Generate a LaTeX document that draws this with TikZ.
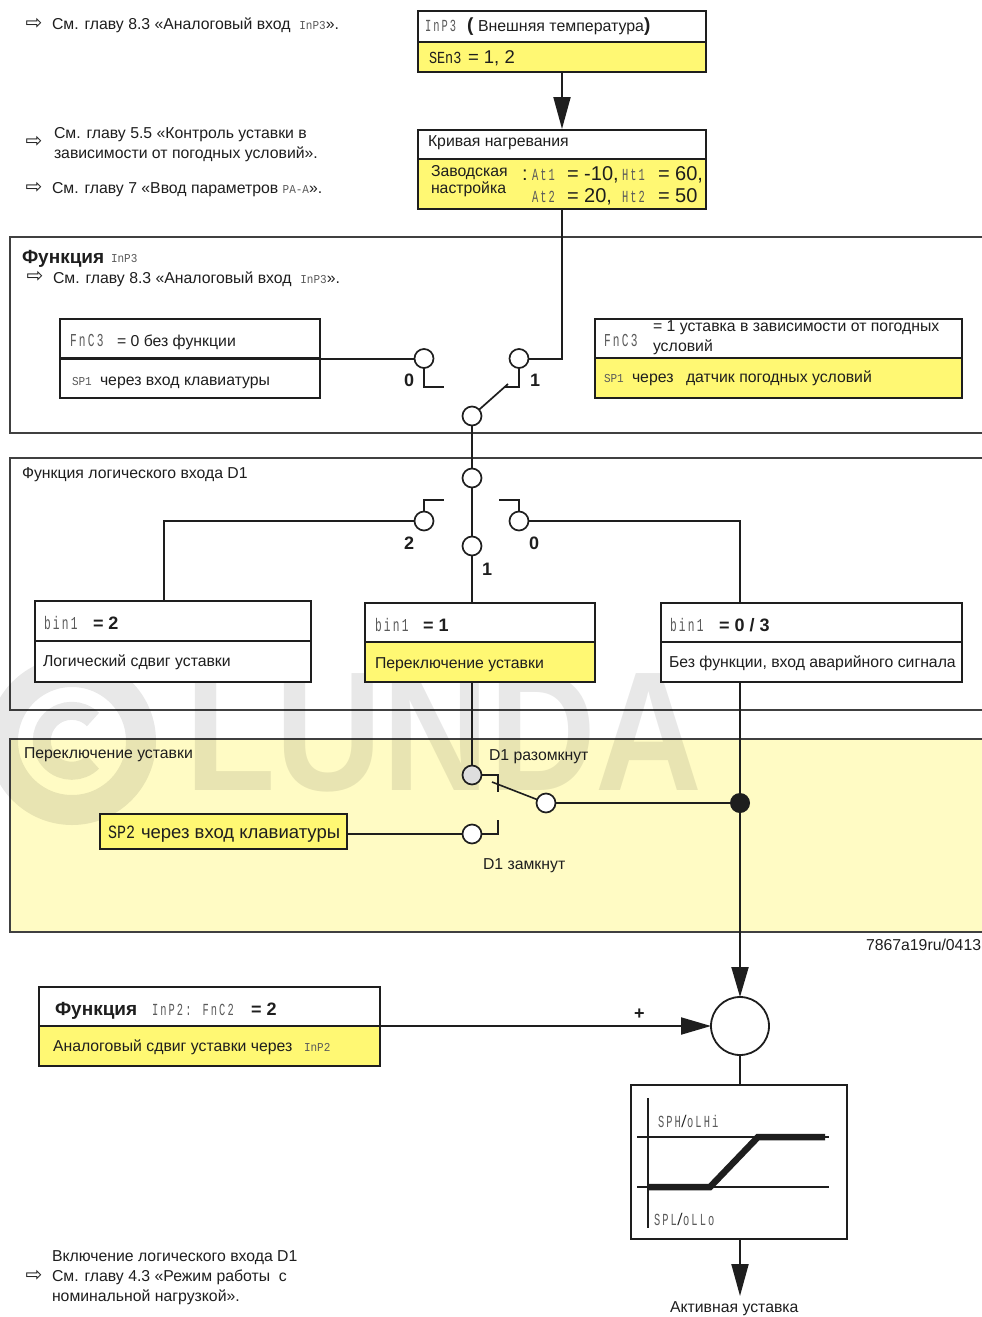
\documentclass[tikz,border=0pt]{standalone}
\usepackage{fontspec}
\usepackage{graphicx}
\setmainfont{Liberation Sans}
\newfontfamily\segf[LetterSpace=20]{Liberation Mono}
\newfontfamily\segtf{Liberation Mono}
\usetikzlibrary{arrows.meta}
\definecolor{hiy}{HTML}{FFF873}
\definecolor{pale}{HTML}{FFFBC4}
\definecolor{ink}{HTML}{1E1E1E}
\definecolor{seggray}{HTML}{5A5A5A}
\newcommand\seg[2][14]{{\fontsize{#1}{#1}\selectfont\segf\textcolor{seggray}{\scalebox{.8}[1.3]{#2}}}}
\newcommand\segt[2][11]{{\fontsize{#1}{#1}\selectfont\segtf\textcolor{seggray}{\scalebox{1}[1.1]{#2}}}}
\newcommand\segd[2][14]{{\fontsize{#1}{#1}\selectfont\segtf\textcolor{ink}{\scalebox{1}[1.25]{#2}}}}
\tikzset{
  x=1pt,y=-1pt,
  lbl/.style={anchor=base west,inner sep=0pt,outer sep=0pt,text=ink,font=\fontsize{15.8}{20}\selectfont},
  bigb/.style={lbl,font=\fontsize{19}{20}\selectfont\bfseries},
  numb/.style={lbl,font=\fontsize{18}{20}\selectfont\bfseries},
  big/.style={lbl,font=\fontsize{18.5}{20}\selectfont},
  huge/.style={lbl,font=\fontsize{20}{20}\selectfont},
  wire/.style={draw=ink,line width=2pt},
  term/.style={circle,draw=ink,line width=1.7pt,fill=white,minimum size=19pt,inner sep=0pt,outer sep=0pt},
  boxb/.style={draw=ink,line width=2pt,inner sep=0pt,outer sep=0pt,anchor=north west},
  framed/.style={draw=black!75,line width=1.5pt,inner sep=0pt,outer sep=0pt,anchor=north west},
  rule/.style={draw=ink,line width=2.6pt},
}
% name x1 y1 x2 y2 style
\newcommand\bx[6]{%
  \pgfmathsetlengthmacro\bw{(#4)-(#2)}\pgfmathsetlengthmacro\bh{(#5)-(#3)}%
  \node[#6,minimum width=\bw,minimum height=\bh] (#1) at (#2,#3) {};}
\newcommand\lb[5][lbl]{\node[#1] (#2) at (#3,#4) {#5};}
\newcommand\ptr[3]{\node[lbl,anchor=center,font=\fontsize{20}{20}\selectfont\fontspec{DejaVu Sans}] (#1) at (#2,#3) {⇨};}
\begin{document}
\begin{tikzpicture}
\useasboundingbox (0,0) rectangle (982,1317);
\clip (0,0) rectangle (982,1317);
\fill[white] (0,0) rectangle (982,1317);

% panels
\bx{fr1}{10}{237}{1000}{433}{framed,fill=white}
\bx{fr2}{10}{458}{1000}{710}{framed,fill=white}
\bx{fr3}{10}{739}{1000}{932}{framed,fill=pale}

% watermark
\begin{scope}[opacity=.09]
\draw[black,line width=30pt] (72,741) circle (69);
\draw[black,line width=18pt] (93,762) arc[start angle=45,end angle=315,radius=30];
\end{scope}
\node[anchor=base west,inner sep=0pt,text=black,text opacity=.09,font=\fontsize{170}{170}\selectfont\bfseries,xscale=.87] (wm) at (185,790) {LUNDA};

% header boxes
\bx{tpY}{418}{42}{706}{72}{boxb,fill=hiy}
\bx{tpW}{418}{11}{706}{42}{boxb,fill=white}
\bx{cvY}{418}{159}{706}{209}{boxb,fill=hiy}
\bx{cvW}{418}{130}{706}{159}{boxb,fill=white}

% function InP3 boxes
\bx{fnA}{60}{319}{320}{398}{boxb,fill=white}
\draw[rule] (60,358.5) -- (320,358.5);
\bx{fnBY}{595}{358}{962}{398}{boxb,fill=hiy}
\bx{fnB}{595}{319}{962}{358}{boxb,fill=white}

% bin boxes
\bx{bA}{35}{601}{311}{682}{boxb,fill=white}
\draw[rule] (35,641) -- (311,641);
\bx{bBY}{365}{642}{595}{682}{boxb,fill=hiy}
\bx{bB}{365}{603}{595}{642}{boxb,fill=white}
\bx{bC}{661}{603}{962}{682}{boxb,fill=white}
\draw[rule] (661,642) -- (962,642);

% set point box
\bx{spb}{100}{814}{347}{849}{boxb,fill=hiy}

% analog box
\bx{anY}{39}{1026}{380}{1066}{boxb,fill=hiy}
\bx{anW}{39}{987}{380}{1026}{boxb,fill=white}

% chart
\bx{chart}{631}{1085}{847}{1239}{boxb,line width=1.6pt,fill=white}
\draw[ink,line width=1.8pt] (648,1098) -- (648,1228);
\draw[ink,line width=1.6pt] (637,1137) -- (829,1137);
\draw[ink,line width=1.6pt] (637,1187) -- (829,1187);
\draw[ink,line width=6.5pt,line join=miter] (648,1187) -- (710,1187) -- (758,1137) -- (825,1137);

% terminals
\node[term] (c0) at (424,358.5) {};
\node[term] (c1) at (519,358.5) {};
\node[term] (cm) at (472,416) {};
\node[term] (d0) at (472,478) {};
\node[term] (dl) at (424,521) {};
\node[term] (dr) at (519,521) {};
\node[term] (dc) at (472,546) {};
\node[term,fill=black!13] (e0) at (472,775) {};
\node[term] (e1) at (546,803) {};
\node[term] (e2) at (472,834) {};
\node[circle,fill=ink,minimum size=20pt,inner sep=0pt] (dot) at (740,803) {};
\node[circle,draw=ink,line width=1.8pt,fill=white,minimum size=58pt,inner sep=0pt,outer sep=0pt] (sum) at (740,1026) {};

% free ends
\coordinate (a1) at (562,72);
\coordinate (a2) at (562,129);
\coordinate (cvb) at (562,209);
\coordinate (s0) at (444,387);
\coordinate (s1) at (504,387);
\coordinate (lv) at (508,384);
\coordinate (sl) at (444,500);
\coordinate (sr) at (499,500);
\coordinate (blA) at (164,601);
\coordinate (blB) at (472,603);
\coordinate (blC) at (740,603);
\coordinate (bbB) at (472,682);
\coordinate (bbC) at (740,682);
\coordinate (k1) at (498,792);
\coordinate (k2) at (498,820);
\coordinate (lv2) at (492,782);
\coordinate (spo) at (347,834);
\coordinate (anO) at (380,1026);
\coordinate (chT) at (740,1085);
\coordinate (chB) at (740,1239);
\coordinate (act) at (740,1296);

% connectors
\draw[wire,-{Triangle[length=32pt,width=17pt]}] (a1) -- (a2);
\draw[wire] (c1) -| (cvb);
\draw[wire] (fnA.east) -- (c0);
\draw[wire] (c0) |- (s0);
\draw[wire] (c1) |- (s1);
\draw[wire,line width=1.7pt] (cm) -- (lv);
\draw[wire] (cm) -- (d0);
\draw[wire] (d0) -- (dc);
\draw[wire] (dc) -- (blB);
\draw[wire] (dl) |- (sl);
\draw[wire] (dr) |- (sr);
\draw[wire] (dl) -| (blA);
\draw[wire] (dr) -| (blC);
\draw[wire] (bbB) -- (e0);
\draw[wire] (e0) -| (k1);
\draw[wire,line width=1.6pt] (e1) -- (lv2);
\draw[wire] (spo) -- (e2);
\draw[wire] (e2) -| (k2);
\draw[wire] (e1) -- (dot);
\draw[wire] (bbC) -- (dot);
\draw[wire,-{Triangle[length=30pt,width=17pt]}] (dot) -- (sum);
\draw[wire,-{Triangle[length=30pt,width=17pt]}] (anO) -- (sum);
\draw[wire] (sum) -- (chT);
\draw[wire,-{Triangle[length=32pt,width=17pt]}] (chB) -- (act);

% left notes
\ptr{p1}{34}{24}
\lb{n1}{52}{29}{См. главу 8.3 «Аналоговый вход \ \segt{InP3}».}
\ptr{p2}{34}{142}
\lb{n2}{54}{138}{См. главу 5.5 «Контроль уставки в}
\lb{n2b}{54}{158}{зависимости от погодных условий».}
\ptr{p3}{34}{188}
\lb{n3}{52}{193}{См. главу 7 «Ввод параметров \segt{PA-A}».}
\ptr{p4}{35}{277}
\lb{n4}{53}{283}{См. главу 8.3 «Аналоговый вход \ \segt{InP3}».}
\ptr{p5}{34}{1276}
\lb{n5}{52}{1261}{Включение логического входа D1}
\lb{n5b}{52}{1281}{См. главу 4.3 «Режим работы \ с}
\lb{n5c}{52}{1301}{номинальной нагрузкой».}

% box texts
\lb{t1}{425}{31}{\seg[13]{InP3}}
\lb[lbl,font=\fontsize{19}{20}\selectfont\bfseries]{t1b}{467}{31}{(}
\lb[lbl,font=\fontsize{15.9}{20}\selectfont]{t1c}{478}{31}{Внешняя температура}
\lb[lbl,font=\fontsize{19}{20}\selectfont\bfseries]{t1d}{644}{31}{)}
\lb{t2}{429}{63}{\segd[13.5]{SEn3}}
\lb[big]{t2b}{468}{63}{= 1, 2}
\lb{t3}{428}{146}{Кривая нагревания}
\lb{t4}{431}{176}{Заводская}
\lb{t4b}{431}{193}{настройка}
\lb[huge]{t5}{522}{180}{:}
\lb{t5a}{532}{180}{\seg[13]{At1}}
\lb[huge]{t5b}{567}{180}{= -10,}
\lb{t5c}{622}{180}{\seg[13]{Ht1}}
\lb[huge]{t5d}{658}{180}{= 60,}
\lb{t6a}{532}{202}{\seg[13]{At2}}
\lb[huge]{t6b}{567}{202}{= 20,}
\lb{t6c}{622}{202}{\seg[13]{Ht2}}
\lb[huge]{t6d}{658}{202}{= 50}

\lb[bigb]{f1}{22}{263}{Функция}
\lb{f1b}{111}{262}{\segt{InP3}}
\lb{fa1}{70}{346}{\seg[14]{FnC3}}
\lb{fa2}{117}{346}{= 0 без функции}
\lb{fa3}{72}{385}{\segt[11]{SP1}}
\lb{fa4}{100}{385}{через вход клавиатуры}
\lb{fb1}{604}{346}{\seg[14]{FnC3}}
\lb{fb2}{653}{331}{= 1 уставка в зависимости от погодных}
\lb{fb3}{653}{351}{условий}
\lb{fb4}{604}{382}{\segt[11]{SP1}}
\lb{fb5}{632}{382}{через}
\lb{fb6}{686}{382}{датчик погодных условий}
\lb[numb]{n0}{404}{386}{0}
\lb[numb]{n1b}{530}{386}{1}

\lb{g1}{22}{478}{Функция логического входа D1}
\lb[numb]{m2}{404}{549}{2}
\lb[numb]{m0}{529}{549}{0}
\lb[numb]{m1}{482}{575}{1}
\lb{ba1}{44}{629}{\seg[14]{bin1}}
\lb[numb]{ba2}{93}{629}{= 2}
\lb{ba3}{43}{666}{Логический сдвиг уставки}
\lb{bb1}{375}{631}{\seg[14]{bin1}}
\lb[numb]{bb2}{423}{631}{= 1}
\lb{bb3}{375}{668}{Переключение уставки}
\lb{bc1}{670}{631}{\seg[14]{bin1}}
\lb[numb]{bc2}{719}{631}{= 0 / 3}
\lb{bc3}{669}{667}{Без функции, вход аварийного сигнала}

\lb{h1}{24}{758}{Переключение уставки}
\lb{h2}{489}{760}{D1 разомкнут}
\lb{h3}{483}{869}{D1 замкнут}
\lb{h4}{108}{838}{\segd[15]{SP2}}
\lb[big]{h5}{141}{838}{через вход клавиатуры}
\lb{h6}{866}{950}{7867a19ru/0413}

\lb[bigb]{j1}{55}{1015}{Функция}
\lb{j2}{152}{1015}{\seg[13]{InP2: FnC2}}
\lb[numb]{j3}{251}{1015}{= 2}
\lb{j4}{53}{1051}{Аналоговый сдвиг уставки через}
\lb{j5}{304}{1051}{\segt{InP2}}
\lb[numb]{j6}{634}{1019}{+}

\lb{k3}{658}{1127}{\seg[13]{SPH\textcolor{ink}{\bfseries/}oLHi}}
\lb{k4}{654}{1225}{\seg[13]{SPL\textcolor{ink}{\bfseries/}oLLo}}
\lb{k5}{670}{1312}{Активная уставка}
\end{tikzpicture}
\end{document}
